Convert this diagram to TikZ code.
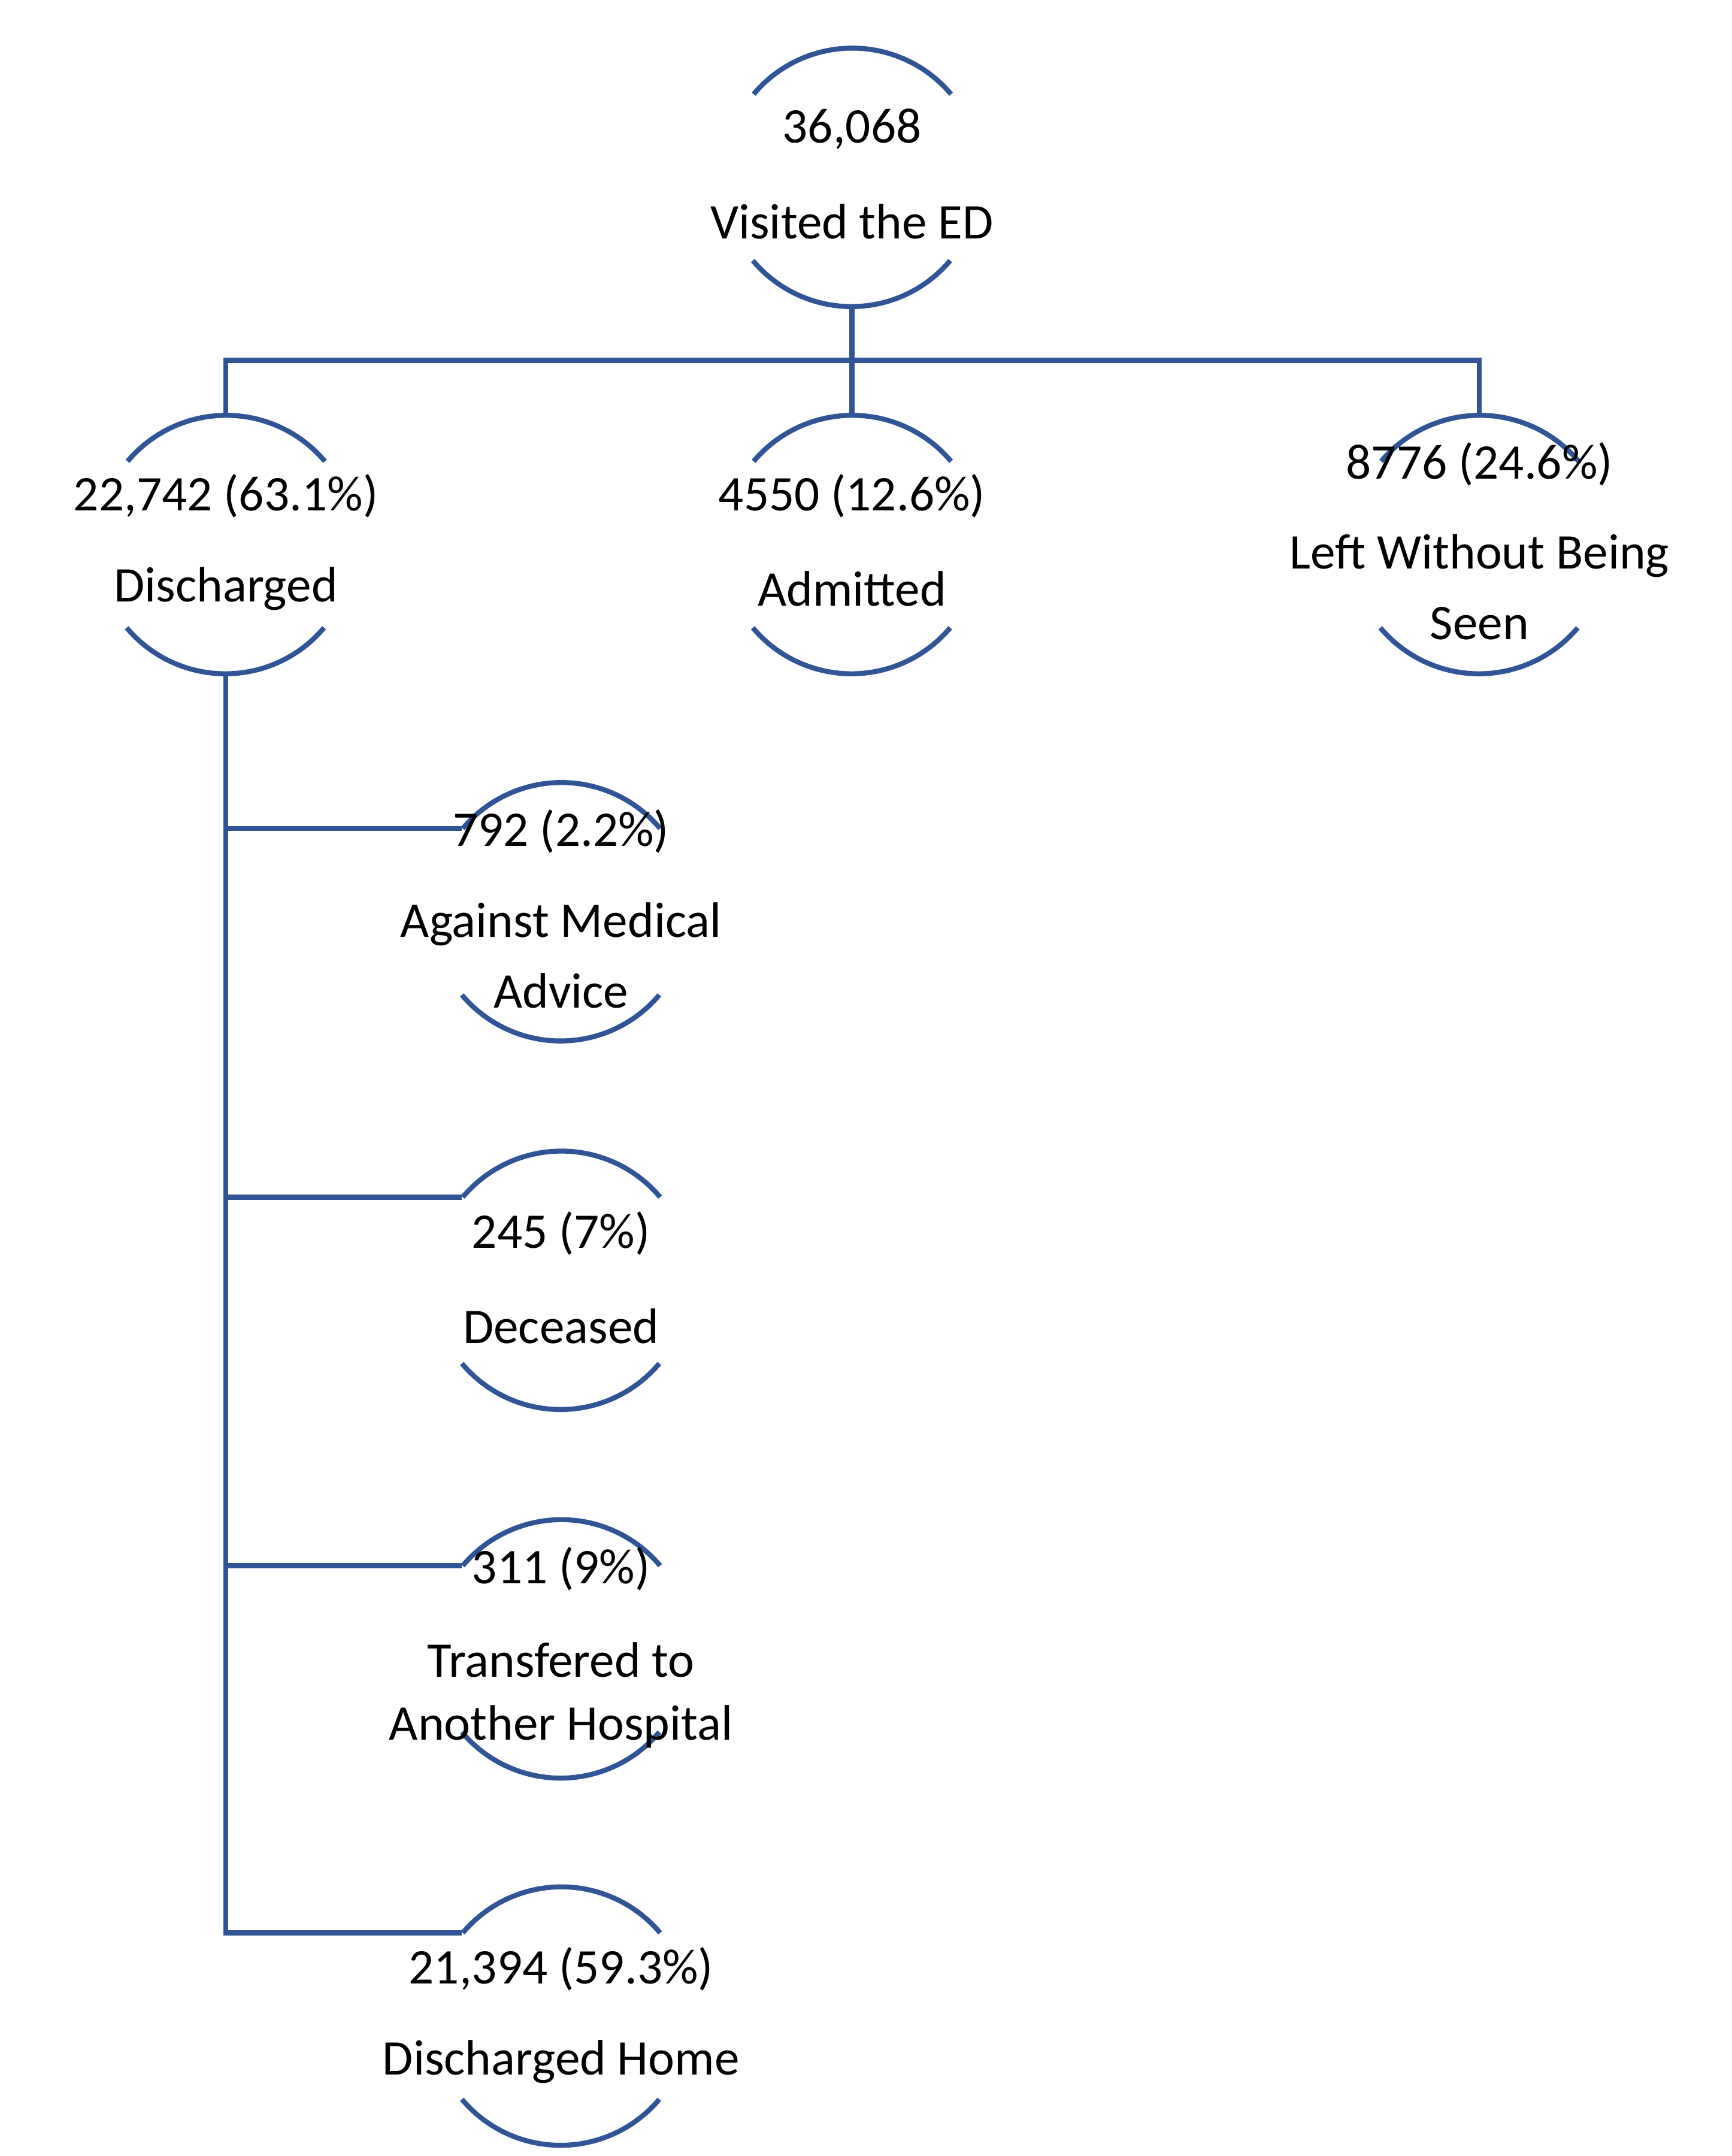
\documentclass[tikz,border=0pt]{standalone}
\usepackage{fontspec}
\setmainfont{Carlito}
\begin{document}
\begin{tikzpicture}[x=0.5pt,y=-0.5pt,
  c/.style={circle,minimum size=93pt,inner sep=0pt,draw=none},
  ln/.style={draw=blu,line width=1.8pt},
  t/.style={font=\fontsize{18}{20}\selectfont,inner sep=0pt,anchor=center}]
\definecolor{blu}{RGB}{47,85,151}
\useasboundingbox (0,0) rectangle (1250,1556);
\node[c] (top) at (615,128) {};
\node[c] (dis) at (163,393) {};
\node[c] (adm) at (615,393) {};
\node[c] (lw) at (1068,393) {};
\node[c] (ama) at (405,658) {};
\node[c] (dec) at (405,924) {};
\node[c] (tr) at (405,1190) {};
\node[c] (hom) at (405,1455) {};
\foreach \n in {top,dis,adm,lw,ama,dec,tr,hom}{
  \draw[ln] (\n.40) arc[start angle=40,end angle=140,radius=46.5pt];
  \draw[ln] (\n.-140) arc[start angle=-140,end angle=-40,radius=46.5pt];
}
\coordinate (j) at (615,260);
\draw[ln] (top.south) -- (j);
\draw[ln] (dis.north) |- (j) -| (lw.north);
\draw[ln] (j) -- (adm.north);
\draw[ln] (dis.south) |- (hom.140);
\draw[ln] (dis.south |- ama.140) -- (ama.140);
\draw[ln] (dis.south |- dec.140) -- (dec.140);
\draw[ln] (dis.south |- tr.140) -- (tr.140);
\node[t] (t1) at (615,93) {36,068};
\node[t] (t2) at (615,160) {Visited the ED};
\node[t] (d1) at (163,358) {22,742 (63.1\%)};
\node[t] (d2) at (163,425) {Discharged};
\node[t] (a1) at (615,358) {4550 (12.6\%)};
\node[t] (a2) at (615,425) {Admitted};
\node[t] (l1) at (1068,335) {8776 (24.6\%)};
\node[t] (l2) at (1068,401) {Left Without Being};
\node[t] (l3) at (1068,450) {Seen};
\node[t] (m1) at (405,600) {792 (2.2\%)};
\node[t] (m2) at (405,667) {Against Medical};
\node[t] (m3) at (405,715) {Advice};
\node[t] (e1) at (405,890) {245 (7\%)};
\node[t] (e2) at (405,957) {Deceased};
\node[t] (r1) at (405,1132) {311 (9\%)};
\node[t] (r2) at (405,1198) {Transfered to};
\node[t] (r3) at (405,1246) {Another Hospital};
\node[t] (h1) at (405,1421) {21,394 (59.3\%)};
\node[t] (h2) at (405,1488) {Discharged Home};
\end{tikzpicture}
\end{document}
